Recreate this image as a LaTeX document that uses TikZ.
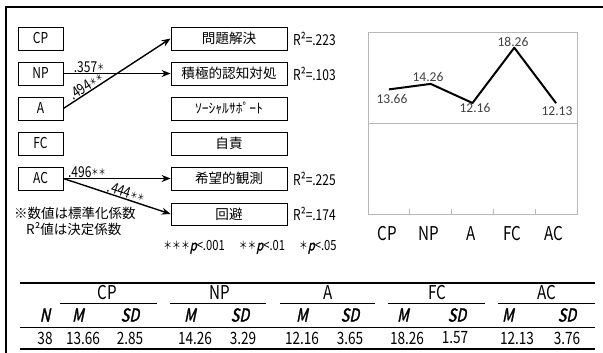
\documentclass[tikz,border=0pt]{standalone}
\usepackage{fontspec}
\newfontfamily\jp{Noto Sans CJK JP}
\newfontfamily\lat[FakeStretch=0.8]{Noto Sans CJK JP}
\newfontfamily\latit[FakeStretch=0.8,FakeSlant=0.2,FakeBold=1.5]{Noto Sans CJK JP}
\newfontfamily\chartf{Carlito}
\usetikzlibrary{arrows.meta}
\newcommand{\stars}[3]{\raisebox{#3}{\lat\fontsize{#1}{#1}\selectfont #2}}
\newcommand{\lbltxt}[2]{{\lat\fontsize{15}{15}\selectfont #1}\stars{9}{#2}{1.5pt}}
\begin{document}
\begin{tikzpicture}[x=1pt,y=-1pt,
  box/.style={draw=black,line width=0.8pt,minimum height=23pt,inner sep=0pt,anchor=center},
  lbox/.style={box,minimum width=45pt,font=\lat\fontsize{15}{15}\selectfont},
  rbox/.style={box,minimum width=116pt,font=\jp\fontsize{13.6}{13.6}\selectfont},
  arr/.style={line width=1.4pt,-{Stealth[length=9pt,width=7pt]}},
  coef/.style={inner sep=0.3pt,sloped,above},
  rsq/.style={anchor=west,inner sep=0pt,font=\lat\fontsize{15}{15}\selectfont},
  note/.style={anchor=west,inner sep=0pt,font=\jp\fontsize{13.5}{13.5}\selectfont},
  axlab/.style={inner sep=0pt,font=\lat\fontsize{19}{19}\selectfont},
  dlab/.style={inner sep=0pt,font=\chartf\fontsize{13.5}{13.5}\selectfont,text=black!75},
  grid/.style={draw=black!28,line width=0.9pt},
  thead/.style={inner sep=0pt,font=\lat\fontsize{19}{19}\selectfont},
  tsub/.style={inner sep=0pt,font=\latit\fontsize{18}{18}\selectfont},
  tnum/.style={inner sep=0pt,font=\lat\fontsize{17}{17}\selectfont},
  thick rule/.style={line width=2.5pt},
  thin rule/.style={line width=0.8pt}
]
\useasboundingbox (0,0) rectangle (603,353);
\fill[white] (0,0) rectangle (603,353);
% frame
\draw[line width=2.5pt] (6,353) -- (6,7) -- (603,7);

% left boxes
\node[lbox] (CP) at (40.5,38.5) {CP};
\node[lbox] (NP) at (40.5,73.5) {NP};
\node[lbox] (A)  at (40.5,108.5) {A};
\node[lbox] (FC) at (40.5,143.5) {FC};
\node[lbox] (AC) at (40.5,178.5) {AC};
% right boxes
\node[rbox] (T1) at (229,38.5) {問題解決};
\node[rbox] (T2) at (229,73.5) {積極的認知対処};
\node[rbox] (T3) at (229,108.5) {ｿｰｼｬﾙｻﾎﾟｰﾄ};
\node[rbox] (T4) at (229,143.5) {自責};
\node[rbox] (T5) at (229,178.5) {希望的観測};
\node[rbox,minimum height=22pt] (T6) at (229,214) {回避};
% R2
\node[rsq] (R1) at (293,38.5) {R²=.223};
\node[rsq] (R2) at (293,73.5) {R²=.103};
\node[rsq] (R5) at (293,178.5) {R²=.225};
\node[rsq] (R6) at (293,214) {R²=.174};

% arrows
\draw[arr] (NP.east) -- node[coef,pos=0.24] {\lbltxt{.357}{＊}} (T2.west);
\draw[arr] (A.east) -- node[coef,pos=0.245] {\lbltxt{.494}{＊＊}} (T1.west);
\draw[arr] (AC.east) -- node[coef,pos=0.22] {\lbltxt{.496}{＊＊}} (T5.west);
\draw[arr] (AC.east) -- node[coef,pos=0.57] {\lbltxt{.444}{＊＊}} (T6.west);

% notes
\node[note] (n1) at (14,213) {※数値は標準化係数};
\node[note] (n2) at (26,229) {R²値は決定係数};
\node[inner sep=0pt,font=\lat\fontsize{14}{14}\selectfont] (pn) at (250,247)
  {\stars{11}{＊＊＊}{1pt}{\latit p}<.001\hspace{14pt}\stars{11}{＊＊}{1pt}{\latit p}<.01\hspace{14pt}\stars{11}{＊}{1pt}{\latit p}<.05};

% chart
\draw[grid] (368,32) rectangle (577,214);
\draw[grid] (368,123) -- (577,123);
\foreach \k in {1,2,3,4} \draw[grid] (368+41.8*\k,214) -- (368+41.8*\k,209);
\coordinate (p1) at (388.9,89.4);
\coordinate (p2) at (430.7,83.9);
\coordinate (p3) at (472.5,103.0);
\coordinate (p4) at (514.3,47.7);
\coordinate (p5) at (556.1,103.2);
\draw[line width=2pt,line join=round] (p1) -- (p2) -- (p3) -- (p4) -- (p5);
\node[dlab] (d1) at (392,99) {13.66};
\node[dlab] (d2) at (428,77) {14.26};
\node[dlab] (d3) at (475,108) {12.16};
\node[dlab] (d4) at (513,42) {18.26};
\node[dlab] (d5) at (557,111) {12.13};
\node[axlab] (x1) at (387,234) {CP};
\node[axlab] (x2) at (429,234) {NP};
\node[axlab] (x3) at (471,234) {A};
\node[axlab] (x4) at (512,234) {FC};
\node[axlab] (x5) at (554,234) {AC};

% table
\draw[thick rule] (20,283) -- (595,283);
\node[thead] (hCP) at (107,293) {CP};
\node[thead] (hNP) at (220,293) {NP};
\node[thead] (hA)  at (328,293) {A};
\node[thead] (hFC) at (437,293) {FC};
\node[thead] (hAC) at (547,293) {AC};
\draw[thin rule] (60,303) -- (157,303);
\draw[thin rule] (170,303) -- (266,303);
\draw[thin rule] (280,303) -- (375,303);
\draw[thin rule] (388,303) -- (485,303);
\draw[thin rule] (498,303) -- (595,303);
\node[tsub] (sN) at (45,315) {N};
\node[tsub] (sM1) at (78,315) {M};
\node[tsub] (sS1) at (130,315) {SD};
\node[tsub] (sM2) at (190,315) {M};
\node[tsub] (sS2) at (240,315) {SD};
\node[tsub] (sM3) at (302,315) {M};
\node[tsub] (sS3) at (350,315) {SD};
\node[tsub] (sM4) at (403,315) {M};
\node[tsub] (sS4) at (457,315) {SD};
\node[tsub] (sM5) at (508,315) {M};
\node[tsub] (sS5) at (567,315) {SD};
\draw[thin rule] (20,327) -- (595,327);
\node[tnum] (vN) at (45,338) {38};
\node[tnum] (v1) at (83,338) {13.66};
\node[tnum] (v2) at (130,338) {2.85};
\node[tnum] (v3) at (195,338) {14.26};
\node[tnum] (v4) at (243,338) {3.29};
\node[tnum] (v5) at (302,338) {12.16};
\node[tnum] (v6) at (350,338) {3.65};
\node[tnum] (v7) at (407,338) {18.26};
\node[tnum] (v8) at (455,338) {1.57};
\node[tnum] (v9) at (517,338) {12.13};
\node[tnum] (v10) at (567,338) {3.76};
\draw[thick rule] (20,349) -- (595,349);
\end{tikzpicture}
\end{document}
